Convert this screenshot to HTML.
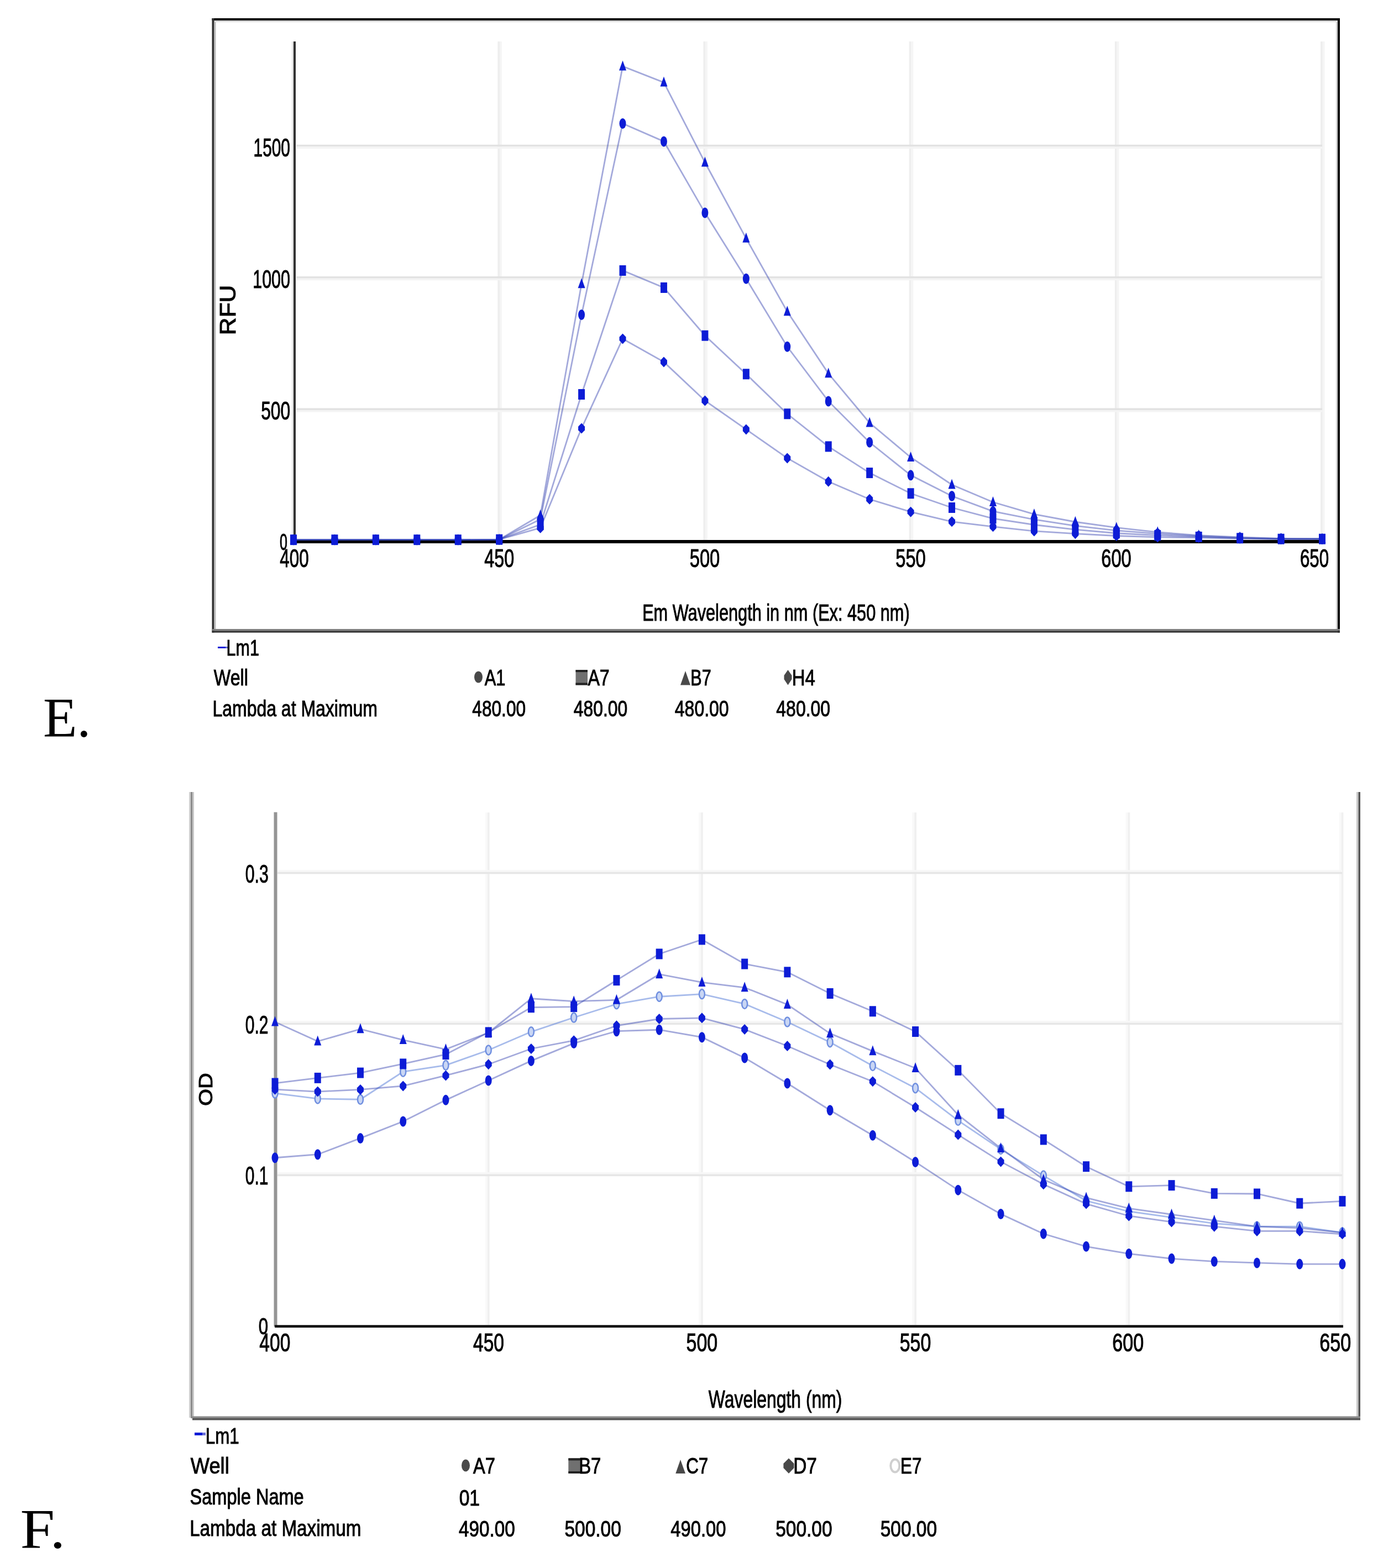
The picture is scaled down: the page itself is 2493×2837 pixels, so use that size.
<!DOCTYPE html>
<html><head><meta charset="utf-8"><title>Spectra E and F</title>
<style>html,body{margin:0;padding:0;background:#fff;width:2493px;height:2837px;overflow:hidden}svg{display:block}</style>
</head><body>
<svg width="2493" height="2837" viewBox="0 0 2493 2837">
<defs><filter id="soft" x="0" y="0" width="2493" height="2837" filterUnits="userSpaceOnUse"><feGaussianBlur stdDeviation="0.6"/></filter></defs><rect width="100%" height="100%" fill="#fff"/>
<g filter="url(#soft)">
<rect x="900.3" y="75" width="3.7" height="902" fill="#eeeeee"/>
<rect x="904" y="75" width="3.8" height="902" fill="#f5f5f5"/>
<rect x="1272.5" y="75" width="3.7" height="902" fill="#eeeeee"/>
<rect x="1276.2" y="75" width="3.8" height="902" fill="#f5f5f5"/>
<rect x="1644.7" y="75" width="3.7" height="902" fill="#eeeeee"/>
<rect x="1648.4" y="75" width="3.8" height="902" fill="#f5f5f5"/>
<rect x="2016.9" y="75" width="3.7" height="902" fill="#eeeeee"/>
<rect x="2020.6" y="75" width="3.8" height="902" fill="#f5f5f5"/>
<rect x="2389.1" y="75" width="3.7" height="902" fill="#eeeeee"/>
<rect x="2392.8" y="75" width="3.8" height="902" fill="#f5f5f5"/>
<rect x="536" y="738.45" width="1856" height="3.6" fill="#e2e2e2"/>
<rect x="536" y="742.05" width="1856" height="3.6" fill="#f4f4f4"/>
<rect x="536" y="500.1" width="1856" height="3.6" fill="#e2e2e2"/>
<rect x="536" y="503.7" width="1856" height="3.6" fill="#f4f4f4"/>
<rect x="536" y="261.75" width="1856" height="3.6" fill="#e2e2e2"/>
<rect x="536" y="265.35" width="1856" height="3.6" fill="#f4f4f4"/>
<rect x="383.5" y="33" width="2040.5" height="4" fill="#000"/>
<rect x="387.5" y="37" width="2032.5" height="3" fill="#dcdcdc"/>
<rect x="383.5" y="33" width="4" height="1111.5" fill="#333"/>
<rect x="387.5" y="40" width="3" height="1098" fill="#bdbdbd"/>
<rect x="2420" y="33" width="4" height="1111.5" fill="#000"/>
<rect x="2417" y="40" width="3" height="1098" fill="#d2d2d2"/>
<rect x="383.5" y="1138" width="2040.5" height="3.3" fill="#808080"/>
<rect x="383.5" y="1141.3" width="2040.5" height="3.3" fill="#333"/>
<rect x="531" y="75" width="4" height="905" fill="#333"/>
<rect x="528" y="75" width="3" height="905" fill="#e4e4e4"/>
<rect x="531" y="977" width="1866" height="6" fill="#000"/>
<polyline points="531,976.66 605.44,976.66 679.88,976.66 754.32,976.66 828.76,976.66 903.2,976.19 977.64,932.33 1052.08,513.79 1126.52,120.03 1200.96,149.11 1275.4,294.03 1349.84,431.32 1424.28,563.84 1498.72,675.87 1573.16,765.01 1647.6,827.46 1722.04,877.03 1796.48,908.5 1870.92,930.42 1945.36,944.25 2019.8,954.73 2094.24,962.84 2168.68,968.56 2243.12,971.9 2317.56,974.28 2392,974.76" fill="none" stroke="#3040b0" stroke-opacity="0.45" stroke-width="2.8"/>
<polyline points="531,976.66 605.44,976.66 679.88,976.66 754.32,976.66 828.76,976.66 903.2,976.19 977.64,939.48 1052.08,569.56 1126.52,223.48 1200.96,255.89 1275.4,385.08 1349.84,504.25 1424.28,627.24 1498.72,725.92 1573.16,800.28 1647.6,859.87 1722.04,897.53 1796.48,925.18 1870.92,939.96 1945.36,951.4 2019.8,959.98 2094.24,965.7 2168.68,969.99 2243.12,972.85 2317.56,974.76 2392,975.23" fill="none" stroke="#3040b0" stroke-opacity="0.45" stroke-width="2.8"/>
<polyline points="531,976.66 605.44,976.66 679.88,976.66 754.32,976.66 828.76,976.66 903.2,976.19 977.64,949.01 1052.08,713.52 1126.52,489.48 1200.96,520.46 1275.4,607.22 1349.84,676.82 1424.28,748.8 1498.72,807.91 1573.16,855.58 1647.6,892.76 1722.04,918.51 1796.48,938.05 1870.92,949.49 1945.36,958.07 2019.8,964.75 2094.24,968.56 2168.68,971.42 2243.12,973.8 2317.56,975.23 2392,975.23" fill="none" stroke="#3040b0" stroke-opacity="0.45" stroke-width="2.8"/>
<polyline points="531,976.66 605.44,976.66 679.88,976.66 754.32,976.66 828.76,976.66 903.2,976.19 977.64,955.21 1052.08,775.02 1126.52,612.94 1200.96,654.89 1275.4,724.97 1349.84,776.93 1424.28,828.89 1498.72,871.31 1573.16,903.25 1647.6,926.13 1722.04,943.77 1796.48,952.83 1870.92,960.93 1945.36,965.7 2019.8,969.51 2094.24,971.9 2168.68,972.85 2243.12,974.28 2317.56,975.23 2392,975.23" fill="none" stroke="#3040b0" stroke-opacity="0.45" stroke-width="2.8"/>
<polygon points="531,966.16 537.5,984.16 524.5,984.16" fill="#0a1fd6"/>
<polygon points="605.44,966.16 611.94,984.16 598.94,984.16" fill="#0a1fd6"/>
<polygon points="679.88,966.16 686.38,984.16 673.38,984.16" fill="#0a1fd6"/>
<polygon points="754.32,966.16 760.82,984.16 747.82,984.16" fill="#0a1fd6"/>
<polygon points="828.76,966.16 835.26,984.16 822.26,984.16" fill="#0a1fd6"/>
<polygon points="903.2,965.69 909.7,983.69 896.7,983.69" fill="#0a1fd6"/>
<polygon points="977.64,921.83 984.14,939.83 971.14,939.83" fill="#0a1fd6"/>
<polygon points="1052.08,503.29 1058.58,521.29 1045.58,521.29" fill="#0a1fd6"/>
<polygon points="1126.52,109.53 1133.02,127.53 1120.02,127.53" fill="#0a1fd6"/>
<polygon points="1200.96,138.61 1207.46,156.61 1194.46,156.61" fill="#0a1fd6"/>
<polygon points="1275.4,283.53 1281.9,301.53 1268.9,301.53" fill="#0a1fd6"/>
<polygon points="1349.84,420.82 1356.34,438.82 1343.34,438.82" fill="#0a1fd6"/>
<polygon points="1424.28,553.34 1430.78,571.34 1417.78,571.34" fill="#0a1fd6"/>
<polygon points="1498.72,665.37 1505.22,683.37 1492.22,683.37" fill="#0a1fd6"/>
<polygon points="1573.16,754.51 1579.66,772.51 1566.66,772.51" fill="#0a1fd6"/>
<polygon points="1647.6,816.96 1654.1,834.96 1641.1,834.96" fill="#0a1fd6"/>
<polygon points="1722.04,866.53 1728.54,884.53 1715.54,884.53" fill="#0a1fd6"/>
<polygon points="1796.48,898 1802.98,916 1789.98,916" fill="#0a1fd6"/>
<polygon points="1870.92,919.92 1877.42,937.92 1864.42,937.92" fill="#0a1fd6"/>
<polygon points="1945.36,933.75 1951.86,951.75 1938.86,951.75" fill="#0a1fd6"/>
<polygon points="2019.8,944.23 2026.3,962.23 2013.3,962.23" fill="#0a1fd6"/>
<polygon points="2094.24,952.34 2100.74,970.34 2087.74,970.34" fill="#0a1fd6"/>
<polygon points="2168.68,958.06 2175.18,976.06 2162.18,976.06" fill="#0a1fd6"/>
<polygon points="2243.12,961.4 2249.62,979.4 2236.62,979.4" fill="#0a1fd6"/>
<polygon points="2317.56,963.78 2324.06,981.78 2311.06,981.78" fill="#0a1fd6"/>
<polygon points="2392,964.26 2398.5,982.26 2385.5,982.26" fill="#0a1fd6"/>
<ellipse cx="531" cy="976.66" rx="6" ry="9.5" fill="#0a1fd6"/>
<ellipse cx="605.44" cy="976.66" rx="6" ry="9.5" fill="#0a1fd6"/>
<ellipse cx="679.88" cy="976.66" rx="6" ry="9.5" fill="#0a1fd6"/>
<ellipse cx="754.32" cy="976.66" rx="6" ry="9.5" fill="#0a1fd6"/>
<ellipse cx="828.76" cy="976.66" rx="6" ry="9.5" fill="#0a1fd6"/>
<ellipse cx="903.2" cy="976.19" rx="6" ry="9.5" fill="#0a1fd6"/>
<ellipse cx="977.64" cy="939.48" rx="6" ry="9.5" fill="#0a1fd6"/>
<ellipse cx="1052.08" cy="569.56" rx="6" ry="9.5" fill="#0a1fd6"/>
<ellipse cx="1126.52" cy="223.48" rx="6" ry="9.5" fill="#0a1fd6"/>
<ellipse cx="1200.96" cy="255.89" rx="6" ry="9.5" fill="#0a1fd6"/>
<ellipse cx="1275.4" cy="385.08" rx="6" ry="9.5" fill="#0a1fd6"/>
<ellipse cx="1349.84" cy="504.25" rx="6" ry="9.5" fill="#0a1fd6"/>
<ellipse cx="1424.28" cy="627.24" rx="6" ry="9.5" fill="#0a1fd6"/>
<ellipse cx="1498.72" cy="725.92" rx="6" ry="9.5" fill="#0a1fd6"/>
<ellipse cx="1573.16" cy="800.28" rx="6" ry="9.5" fill="#0a1fd6"/>
<ellipse cx="1647.6" cy="859.87" rx="6" ry="9.5" fill="#0a1fd6"/>
<ellipse cx="1722.04" cy="897.53" rx="6" ry="9.5" fill="#0a1fd6"/>
<ellipse cx="1796.48" cy="925.18" rx="6" ry="9.5" fill="#0a1fd6"/>
<ellipse cx="1870.92" cy="939.96" rx="6" ry="9.5" fill="#0a1fd6"/>
<ellipse cx="1945.36" cy="951.4" rx="6" ry="9.5" fill="#0a1fd6"/>
<ellipse cx="2019.8" cy="959.98" rx="6" ry="9.5" fill="#0a1fd6"/>
<ellipse cx="2094.24" cy="965.7" rx="6" ry="9.5" fill="#0a1fd6"/>
<ellipse cx="2168.68" cy="969.99" rx="6" ry="9.5" fill="#0a1fd6"/>
<ellipse cx="2243.12" cy="972.85" rx="6" ry="9.5" fill="#0a1fd6"/>
<ellipse cx="2317.56" cy="974.76" rx="6" ry="9.5" fill="#0a1fd6"/>
<ellipse cx="2392" cy="975.23" rx="6" ry="9.5" fill="#0a1fd6"/>
<rect x="525" y="967.16" width="12" height="19" fill="#0a1fd6"/>
<rect x="599.44" y="967.16" width="12" height="19" fill="#0a1fd6"/>
<rect x="673.88" y="967.16" width="12" height="19" fill="#0a1fd6"/>
<rect x="748.32" y="967.16" width="12" height="19" fill="#0a1fd6"/>
<rect x="822.76" y="967.16" width="12" height="19" fill="#0a1fd6"/>
<rect x="897.2" y="966.69" width="12" height="19" fill="#0a1fd6"/>
<rect x="971.64" y="939.51" width="12" height="19" fill="#0a1fd6"/>
<rect x="1046.08" y="704.02" width="12" height="19" fill="#0a1fd6"/>
<rect x="1120.52" y="479.98" width="12" height="19" fill="#0a1fd6"/>
<rect x="1194.96" y="510.96" width="12" height="19" fill="#0a1fd6"/>
<rect x="1269.4" y="597.72" width="12" height="19" fill="#0a1fd6"/>
<rect x="1343.84" y="667.32" width="12" height="19" fill="#0a1fd6"/>
<rect x="1418.28" y="739.3" width="12" height="19" fill="#0a1fd6"/>
<rect x="1492.72" y="798.41" width="12" height="19" fill="#0a1fd6"/>
<rect x="1567.16" y="846.08" width="12" height="19" fill="#0a1fd6"/>
<rect x="1641.6" y="883.26" width="12" height="19" fill="#0a1fd6"/>
<rect x="1716.04" y="909.01" width="12" height="19" fill="#0a1fd6"/>
<rect x="1790.48" y="928.55" width="12" height="19" fill="#0a1fd6"/>
<rect x="1864.92" y="939.99" width="12" height="19" fill="#0a1fd6"/>
<rect x="1939.36" y="948.57" width="12" height="19" fill="#0a1fd6"/>
<rect x="2013.8" y="955.25" width="12" height="19" fill="#0a1fd6"/>
<rect x="2088.24" y="959.06" width="12" height="19" fill="#0a1fd6"/>
<rect x="2162.68" y="961.92" width="12" height="19" fill="#0a1fd6"/>
<rect x="2237.12" y="964.3" width="12" height="19" fill="#0a1fd6"/>
<rect x="2311.56" y="965.73" width="12" height="19" fill="#0a1fd6"/>
<rect x="2386" y="965.73" width="12" height="19" fill="#0a1fd6"/>
<polygon points="531,967.16 537,973.5 537,979.83 531,986.16 525,979.83 525,973.5" fill="#0a1fd6"/>
<polygon points="605.44,967.16 611.44,973.5 611.44,979.83 605.44,986.16 599.44,979.83 599.44,973.5" fill="#0a1fd6"/>
<polygon points="679.88,967.16 685.88,973.5 685.88,979.83 679.88,986.16 673.88,979.83 673.88,973.5" fill="#0a1fd6"/>
<polygon points="754.32,967.16 760.32,973.5 760.32,979.83 754.32,986.16 748.32,979.83 748.32,973.5" fill="#0a1fd6"/>
<polygon points="828.76,967.16 834.76,973.5 834.76,979.83 828.76,986.16 822.76,979.83 822.76,973.5" fill="#0a1fd6"/>
<polygon points="903.2,966.69 909.2,973.02 909.2,979.35 903.2,985.69 897.2,979.35 897.2,973.02" fill="#0a1fd6"/>
<polygon points="977.64,945.71 983.64,952.04 983.64,958.38 977.64,964.71 971.64,958.38 971.64,952.04" fill="#0a1fd6"/>
<polygon points="1052.08,765.52 1058.08,771.85 1058.08,778.19 1052.08,784.52 1046.08,778.19 1046.08,771.85" fill="#0a1fd6"/>
<polygon points="1126.52,603.44 1132.52,609.77 1132.52,616.11 1126.52,622.44 1120.52,616.11 1120.52,609.77" fill="#0a1fd6"/>
<polygon points="1200.96,645.39 1206.96,651.72 1206.96,658.06 1200.96,664.39 1194.96,658.06 1194.96,651.72" fill="#0a1fd6"/>
<polygon points="1275.4,715.47 1281.4,721.8 1281.4,728.13 1275.4,734.47 1269.4,728.13 1269.4,721.8" fill="#0a1fd6"/>
<polygon points="1349.84,767.43 1355.84,773.76 1355.84,780.09 1349.84,786.43 1343.84,780.09 1343.84,773.76" fill="#0a1fd6"/>
<polygon points="1424.28,819.39 1430.28,825.72 1430.28,832.05 1424.28,838.39 1418.28,832.05 1418.28,825.72" fill="#0a1fd6"/>
<polygon points="1498.72,861.81 1504.72,868.15 1504.72,874.48 1498.72,880.81 1492.72,874.48 1492.72,868.15" fill="#0a1fd6"/>
<polygon points="1573.16,893.75 1579.16,900.08 1579.16,906.42 1573.16,912.75 1567.16,906.42 1567.16,900.08" fill="#0a1fd6"/>
<polygon points="1647.6,916.63 1653.6,922.97 1653.6,929.3 1647.6,935.63 1641.6,929.3 1641.6,922.97" fill="#0a1fd6"/>
<polygon points="1722.04,934.27 1728.04,940.6 1728.04,946.94 1722.04,953.27 1716.04,946.94 1716.04,940.6" fill="#0a1fd6"/>
<polygon points="1796.48,943.33 1802.48,949.66 1802.48,955.99 1796.48,962.33 1790.48,955.99 1790.48,949.66" fill="#0a1fd6"/>
<polygon points="1870.92,951.43 1876.92,957.77 1876.92,964.1 1870.92,970.43 1864.92,964.1 1864.92,957.77" fill="#0a1fd6"/>
<polygon points="1945.36,956.2 1951.36,962.53 1951.36,968.87 1945.36,975.2 1939.36,968.87 1939.36,962.53" fill="#0a1fd6"/>
<polygon points="2019.8,960.01 2025.8,966.35 2025.8,972.68 2019.8,979.01 2013.8,972.68 2013.8,966.35" fill="#0a1fd6"/>
<polygon points="2094.24,962.4 2100.24,968.73 2100.24,975.06 2094.24,981.4 2088.24,975.06 2088.24,968.73" fill="#0a1fd6"/>
<polygon points="2168.68,963.35 2174.68,969.68 2174.68,976.02 2168.68,982.35 2162.68,976.02 2162.68,969.68" fill="#0a1fd6"/>
<polygon points="2243.12,964.78 2249.12,971.11 2249.12,977.45 2243.12,983.78 2237.12,977.45 2237.12,971.11" fill="#0a1fd6"/>
<polygon points="2317.56,965.73 2323.56,972.07 2323.56,978.4 2317.56,984.73 2311.56,978.4 2311.56,972.07" fill="#0a1fd6"/>
<polygon points="2392,965.73 2398,972.07 2398,978.4 2392,984.73 2386,978.4 2386,972.07" fill="#0a1fd6"/>
<text x="458.56" y="282.5" font-size="45.82" textLength="66.37" lengthAdjust="spacingAndGlyphs" fill="#000" stroke="#000" stroke-width="1" style="font-family:'Liberation Sans', sans-serif">1500</text>
<text x="457.22" y="520.5" font-size="45.82" textLength="67.74" lengthAdjust="spacingAndGlyphs" fill="#000" stroke="#000" stroke-width="1" style="font-family:'Liberation Sans', sans-serif">1000</text>
<text x="472.23" y="759" font-size="45.82" textLength="52.89" lengthAdjust="spacingAndGlyphs" fill="#000" stroke="#000" stroke-width="1" style="font-family:'Liberation Sans', sans-serif">500</text>
<text x="506" y="995" font-size="42.18" textLength="13.9" lengthAdjust="spacingAndGlyphs" fill="#000" stroke="#000" stroke-width="1" style="font-family:'Liberation Sans', sans-serif">0</text>
<text x="506.37" y="1025.5" font-size="45.82" textLength="52.34" lengthAdjust="spacingAndGlyphs" fill="#000" stroke="#000" stroke-width="1" style="font-family:'Liberation Sans', sans-serif">400</text>
<text x="876.35" y="1025.5" font-size="45.82" textLength="53.89" lengthAdjust="spacingAndGlyphs" fill="#000" stroke="#000" stroke-width="1" style="font-family:'Liberation Sans', sans-serif">450</text>
<text x="1247.69" y="1025.5" font-size="45.82" textLength="54.57" lengthAdjust="spacingAndGlyphs" fill="#000" stroke="#000" stroke-width="1" style="font-family:'Liberation Sans', sans-serif">500</text>
<text x="1620.19" y="1025.5" font-size="45.82" textLength="54.57" lengthAdjust="spacingAndGlyphs" fill="#000" stroke="#000" stroke-width="1" style="font-family:'Liberation Sans', sans-serif">550</text>
<text x="1992.37" y="1025.5" font-size="45.82" textLength="54.39" lengthAdjust="spacingAndGlyphs" fill="#000" stroke="#000" stroke-width="1" style="font-family:'Liberation Sans', sans-serif">600</text>
<text x="2351.93" y="1025.5" font-size="45.82" textLength="52.27" lengthAdjust="spacingAndGlyphs" fill="#000" stroke="#000" stroke-width="1" style="font-family:'Liberation Sans', sans-serif">650</text>
<g transform="translate(411.7,560.8) rotate(-90)"><text x="-45.37" y="13.85" font-size="40.29" textLength="90.54" lengthAdjust="spacingAndGlyphs" fill="#000" stroke="#000" stroke-width="1" style="font-family:'Liberation Sans', sans-serif">RFU</text></g>
<text x="1162.14" y="1123" font-size="42.91" textLength="483.56" lengthAdjust="spacingAndGlyphs" fill="#000" stroke="#000" stroke-width="1" style="font-family:'Liberation Sans', sans-serif">Em Wavelength in nm (Ex: 450 nm)</text>
<rect x="394" y="1170" width="14" height="3" fill="#0a1fd6"/>
<rect x="408" y="1170" width="6" height="3" fill="#6a70d8"/>
<text x="409.56" y="1186.4" font-size="39.85" textLength="59.32" lengthAdjust="spacingAndGlyphs" fill="#000" stroke="#000" stroke-width="1" style="font-family:'Liberation Sans', sans-serif">Lm1</text>
<text x="386.84" y="1239.5" font-size="40" textLength="62.1" lengthAdjust="spacingAndGlyphs" fill="#000" stroke="#000" stroke-width="1" style="font-family:'Liberation Sans', sans-serif">Well</text>
<text x="384.44" y="1295.5" font-size="40" textLength="298.55" lengthAdjust="spacingAndGlyphs" fill="#000" stroke="#000" stroke-width="1" style="font-family:'Liberation Sans', sans-serif">Lambda at Maximum</text>
<ellipse cx="865.5" cy="1225" rx="7.5" ry="10.5" fill="#4a4a4a"/>
<text x="876.7" y="1239.5" font-size="40" textLength="37.69" lengthAdjust="spacingAndGlyphs" fill="#000" stroke="#000" stroke-width="1" style="font-family:'Liberation Sans', sans-serif">A1</text>
<rect x="1041.5" y="1212" width="21.5" height="27.5" fill="#707070"/>
<rect x="1041.5" y="1212" width="21.5" height="4" fill="#222"/>
<rect x="1041.5" y="1235.5" width="21.5" height="4" fill="#222"/>
<text x="1063.4" y="1239.5" font-size="40" textLength="39.31" lengthAdjust="spacingAndGlyphs" fill="#000" stroke="#000" stroke-width="1" style="font-family:'Liberation Sans', sans-serif">A7</text>
<polygon points="1240,1214 1249,1239.5 1231,1239.5" fill="#4a4a4a"/>
<text x="1249.26" y="1239.5" font-size="40" textLength="37.37" lengthAdjust="spacingAndGlyphs" fill="#000" stroke="#000" stroke-width="1" style="font-family:'Liberation Sans', sans-serif">B7</text>
<polygon points="1425.5,1212 1432.5,1222 1432.5,1229 1425.5,1239.5 1418.5,1229 1418.5,1222" fill="#4a4a4a"/>
<text x="1432.76" y="1239.5" font-size="40" textLength="42.14" lengthAdjust="spacingAndGlyphs" fill="#000" stroke="#000" stroke-width="1" style="font-family:'Liberation Sans', sans-serif">H4</text>
<text x="854.37" y="1295.7" font-size="40.29" textLength="96.7" lengthAdjust="spacingAndGlyphs" fill="#000" stroke="#000" stroke-width="1" style="font-family:'Liberation Sans', sans-serif">480.00</text>
<text x="1037.86" y="1295.7" font-size="40.29" textLength="97.21" lengthAdjust="spacingAndGlyphs" fill="#000" stroke="#000" stroke-width="1" style="font-family:'Liberation Sans', sans-serif">480.00</text>
<text x="1220.86" y="1295.7" font-size="40.29" textLength="97.71" lengthAdjust="spacingAndGlyphs" fill="#000" stroke="#000" stroke-width="1" style="font-family:'Liberation Sans', sans-serif">480.00</text>
<text x="1404.36" y="1295.7" font-size="40.29" textLength="97.71" lengthAdjust="spacingAndGlyphs" fill="#000" stroke="#000" stroke-width="1" style="font-family:'Liberation Sans', sans-serif">480.00</text>
<rect x="878" y="1470" width="3.9" height="927" fill="#f9f9f9"/>
<rect x="881.9" y="1470" width="3.7" height="927" fill="#f0f0f0"/>
<rect x="1264.2" y="1470" width="3.9" height="927" fill="#f9f9f9"/>
<rect x="1268.1" y="1470" width="3.7" height="927" fill="#f0f0f0"/>
<rect x="1650.4" y="1470" width="3.9" height="927" fill="#f9f9f9"/>
<rect x="1654.3" y="1470" width="3.7" height="927" fill="#f0f0f0"/>
<rect x="2036.6" y="1470" width="3.9" height="927" fill="#f9f9f9"/>
<rect x="2040.5" y="1470" width="3.7" height="927" fill="#f0f0f0"/>
<rect x="2422.8" y="1470" width="3.9" height="927" fill="#f9f9f9"/>
<rect x="2426.7" y="1470" width="3.7" height="927" fill="#f0f0f0"/>
<rect x="502" y="2121" width="1926" height="3.5" fill="#f7f7f7"/>
<rect x="502" y="2124.5" width="1926" height="3.6" fill="#e6e6e6"/>
<rect x="502" y="1847" width="1926" height="3.5" fill="#f7f7f7"/>
<rect x="502" y="1850.5" width="1926" height="3.6" fill="#e6e6e6"/>
<rect x="502" y="1574.2" width="1926" height="3.5" fill="#f7f7f7"/>
<rect x="502" y="1577.7" width="1926" height="3.6" fill="#e6e6e6"/>
<rect x="342" y="1433" width="3" height="1132" fill="#cfcfcf"/>
<rect x="345" y="1433" width="3.5" height="1132" fill="#8c8c8c"/>
<rect x="348.5" y="1433" width="2.5" height="1132" fill="#c8c8c8"/>
<rect x="2454" y="1433" width="3.5" height="1136" fill="#c8c8c8"/>
<rect x="2457.5" y="1433" width="3.5" height="1136" fill="#555"/>
<rect x="345" y="2562.5" width="2116" height="3.5" fill="#8a8a8a"/>
<rect x="348" y="2566" width="2113" height="3.5" fill="#555"/>
<rect x="495.5" y="1469.5" width="6" height="930.5" fill="#959595"/>
<rect x="497" y="2397.5" width="1933" height="4.5" fill="#000"/>
<polyline points="497.5,2094.76 574.74,2088.74 651.98,2059.42 729.22,2029 806.46,1990.37 883.7,1955.02 960.94,1919.4 1038.18,1887.62 1115.42,1865.7 1192.66,1863.23 1269.9,1876.66 1347.14,1913.92 1424.38,1959.96 1501.62,2008.73 1578.86,2054.21 1656.1,2102.44 1733.34,2153.13 1810.58,2196.42 1887.82,2232.31 1965.06,2255.33 2042.3,2268.48 2119.54,2277.25 2196.78,2282.45 2274.02,2284.92 2351.26,2287.11 2428.5,2287.11" fill="none" stroke="#3040b0" stroke-opacity="0.45" stroke-width="2.8"/>
<polyline points="497.5,1978.04 574.74,1987.9 651.98,1989.27 729.22,1939.13 806.46,1927.35 883.7,1899.95 960.94,1866.8 1038.18,1841.04 1115.42,1816.65 1192.66,1803.23 1269.9,1798.57 1347.14,1816.38 1424.38,1848.99 1501.62,1885.7 1578.86,1928.45 1656.1,1968.72 1733.34,2027.36 1810.58,2079.42 1887.82,2127.1 1965.06,2172.58 2042.3,2191.76 2119.54,2202.72 2196.78,2213.68 2274.02,2219.16 2351.26,2219.16 2428.5,2230.12" fill="none" stroke="#5078d8" stroke-opacity="0.5" stroke-width="2.8"/>
<polyline points="497.5,1971.19 574.74,1975.03 651.98,1971.46 729.22,1964.89 806.46,1945.98 883.7,1925.71 960.94,1897.48 1038.18,1882.69 1115.42,1855.84 1192.66,1843.51 1269.9,1841.86 1347.14,1862.41 1424.38,1892.55 1501.62,1925.98 1578.86,1956.67 1656.1,2003.52 1733.34,2053.12 1810.58,2101.89 1887.82,2142.71 1965.06,2178.06 2042.3,2199.98 2119.54,2210.94 2196.78,2219.16 2274.02,2227.38 2351.26,2227.38 2428.5,2232.86" fill="none" stroke="#3040b0" stroke-opacity="0.45" stroke-width="2.8"/>
<polyline points="497.5,1959.96 574.74,1950.37 651.98,1941.05 729.22,1924.88 806.46,1907.62 883.7,1867.89 960.94,1822.68 1038.18,1821.59 1115.42,1773.64 1192.66,1725.96 1269.9,1699.93 1347.14,1744.04 1424.38,1758.84 1501.62,1797.47 1578.86,1829.81 1656.1,1866.52 1733.34,1936.39 1810.58,2014.76 1887.82,2061.88 1965.06,2110.66 2042.3,2146.82 2119.54,2144.63 2196.78,2159.43 2274.02,2159.98 2351.26,2177.24 2428.5,2173.4" fill="none" stroke="#3040b0" stroke-opacity="0.45" stroke-width="2.8"/>
<polyline points="497.5,1848.99 574.74,1884.06 651.98,1861.86 729.22,1881.59 806.46,1898.58 883.7,1868.44 960.94,1806.79 1038.18,1811.72 1115.42,1809.26 1192.66,1762.68 1269.9,1777.47 1347.14,1786.79 1424.38,1817.48 1501.62,1869.81 1578.86,1901.87 1656.1,1932.56 1733.34,2017.22 1810.58,2077.5 1887.82,2134.22 1965.06,2167.1 2042.3,2186.28 2119.54,2197.24 2196.78,2208.2 2274.02,2219.16 2351.26,2221.9 2428.5,2230.12" fill="none" stroke="#3040b0" stroke-opacity="0.45" stroke-width="2.8"/>
<ellipse cx="497.5" cy="2094.76" rx="6" ry="9.5" fill="#0a1fd6"/>
<ellipse cx="574.74" cy="2088.74" rx="6" ry="9.5" fill="#0a1fd6"/>
<ellipse cx="651.98" cy="2059.42" rx="6" ry="9.5" fill="#0a1fd6"/>
<ellipse cx="729.22" cy="2029" rx="6" ry="9.5" fill="#0a1fd6"/>
<ellipse cx="806.46" cy="1990.37" rx="6" ry="9.5" fill="#0a1fd6"/>
<ellipse cx="883.7" cy="1955.02" rx="6" ry="9.5" fill="#0a1fd6"/>
<ellipse cx="960.94" cy="1919.4" rx="6" ry="9.5" fill="#0a1fd6"/>
<ellipse cx="1038.18" cy="1887.62" rx="6" ry="9.5" fill="#0a1fd6"/>
<ellipse cx="1115.42" cy="1865.7" rx="6" ry="9.5" fill="#0a1fd6"/>
<ellipse cx="1192.66" cy="1863.23" rx="6" ry="9.5" fill="#0a1fd6"/>
<ellipse cx="1269.9" cy="1876.66" rx="6" ry="9.5" fill="#0a1fd6"/>
<ellipse cx="1347.14" cy="1913.92" rx="6" ry="9.5" fill="#0a1fd6"/>
<ellipse cx="1424.38" cy="1959.96" rx="6" ry="9.5" fill="#0a1fd6"/>
<ellipse cx="1501.62" cy="2008.73" rx="6" ry="9.5" fill="#0a1fd6"/>
<ellipse cx="1578.86" cy="2054.21" rx="6" ry="9.5" fill="#0a1fd6"/>
<ellipse cx="1656.1" cy="2102.44" rx="6" ry="9.5" fill="#0a1fd6"/>
<ellipse cx="1733.34" cy="2153.13" rx="6" ry="9.5" fill="#0a1fd6"/>
<ellipse cx="1810.58" cy="2196.42" rx="6" ry="9.5" fill="#0a1fd6"/>
<ellipse cx="1887.82" cy="2232.31" rx="6" ry="9.5" fill="#0a1fd6"/>
<ellipse cx="1965.06" cy="2255.33" rx="6" ry="9.5" fill="#0a1fd6"/>
<ellipse cx="2042.3" cy="2268.48" rx="6" ry="9.5" fill="#0a1fd6"/>
<ellipse cx="2119.54" cy="2277.25" rx="6" ry="9.5" fill="#0a1fd6"/>
<ellipse cx="2196.78" cy="2282.45" rx="6" ry="9.5" fill="#0a1fd6"/>
<ellipse cx="2274.02" cy="2284.92" rx="6" ry="9.5" fill="#0a1fd6"/>
<ellipse cx="2351.26" cy="2287.11" rx="6" ry="9.5" fill="#0a1fd6"/>
<ellipse cx="2428.5" cy="2287.11" rx="6" ry="9.5" fill="#0a1fd6"/>
<ellipse cx="497.5" cy="1978.04" rx="5" ry="8.5" fill="#c9d6f4" stroke="#6f8fe0" stroke-width="2.5"/>
<ellipse cx="574.74" cy="1987.9" rx="5" ry="8.5" fill="#c9d6f4" stroke="#6f8fe0" stroke-width="2.5"/>
<ellipse cx="651.98" cy="1989.27" rx="5" ry="8.5" fill="#c9d6f4" stroke="#6f8fe0" stroke-width="2.5"/>
<ellipse cx="729.22" cy="1939.13" rx="5" ry="8.5" fill="#c9d6f4" stroke="#6f8fe0" stroke-width="2.5"/>
<ellipse cx="806.46" cy="1927.35" rx="5" ry="8.5" fill="#c9d6f4" stroke="#6f8fe0" stroke-width="2.5"/>
<ellipse cx="883.7" cy="1899.95" rx="5" ry="8.5" fill="#c9d6f4" stroke="#6f8fe0" stroke-width="2.5"/>
<ellipse cx="960.94" cy="1866.8" rx="5" ry="8.5" fill="#c9d6f4" stroke="#6f8fe0" stroke-width="2.5"/>
<ellipse cx="1038.18" cy="1841.04" rx="5" ry="8.5" fill="#c9d6f4" stroke="#6f8fe0" stroke-width="2.5"/>
<ellipse cx="1115.42" cy="1816.65" rx="5" ry="8.5" fill="#c9d6f4" stroke="#6f8fe0" stroke-width="2.5"/>
<ellipse cx="1192.66" cy="1803.23" rx="5" ry="8.5" fill="#c9d6f4" stroke="#6f8fe0" stroke-width="2.5"/>
<ellipse cx="1269.9" cy="1798.57" rx="5" ry="8.5" fill="#c9d6f4" stroke="#6f8fe0" stroke-width="2.5"/>
<ellipse cx="1347.14" cy="1816.38" rx="5" ry="8.5" fill="#c9d6f4" stroke="#6f8fe0" stroke-width="2.5"/>
<ellipse cx="1424.38" cy="1848.99" rx="5" ry="8.5" fill="#c9d6f4" stroke="#6f8fe0" stroke-width="2.5"/>
<ellipse cx="1501.62" cy="1885.7" rx="5" ry="8.5" fill="#c9d6f4" stroke="#6f8fe0" stroke-width="2.5"/>
<ellipse cx="1578.86" cy="1928.45" rx="5" ry="8.5" fill="#c9d6f4" stroke="#6f8fe0" stroke-width="2.5"/>
<ellipse cx="1656.1" cy="1968.72" rx="5" ry="8.5" fill="#c9d6f4" stroke="#6f8fe0" stroke-width="2.5"/>
<ellipse cx="1733.34" cy="2027.36" rx="5" ry="8.5" fill="#c9d6f4" stroke="#6f8fe0" stroke-width="2.5"/>
<ellipse cx="1810.58" cy="2079.42" rx="5" ry="8.5" fill="#c9d6f4" stroke="#6f8fe0" stroke-width="2.5"/>
<ellipse cx="1887.82" cy="2127.1" rx="5" ry="8.5" fill="#c9d6f4" stroke="#6f8fe0" stroke-width="2.5"/>
<ellipse cx="1965.06" cy="2172.58" rx="5" ry="8.5" fill="#c9d6f4" stroke="#6f8fe0" stroke-width="2.5"/>
<ellipse cx="2042.3" cy="2191.76" rx="5" ry="8.5" fill="#c9d6f4" stroke="#6f8fe0" stroke-width="2.5"/>
<ellipse cx="2119.54" cy="2202.72" rx="5" ry="8.5" fill="#c9d6f4" stroke="#6f8fe0" stroke-width="2.5"/>
<ellipse cx="2196.78" cy="2213.68" rx="5" ry="8.5" fill="#c9d6f4" stroke="#6f8fe0" stroke-width="2.5"/>
<ellipse cx="2274.02" cy="2219.16" rx="5" ry="8.5" fill="#c9d6f4" stroke="#6f8fe0" stroke-width="2.5"/>
<ellipse cx="2351.26" cy="2219.16" rx="5" ry="8.5" fill="#c9d6f4" stroke="#6f8fe0" stroke-width="2.5"/>
<ellipse cx="2428.5" cy="2230.12" rx="5" ry="8.5" fill="#c9d6f4" stroke="#6f8fe0" stroke-width="2.5"/>
<polygon points="497.5,1961.69 503.5,1968.02 503.5,1974.36 497.5,1980.69 491.5,1974.36 491.5,1968.02" fill="#0a1fd6"/>
<polygon points="574.74,1965.53 580.74,1971.86 580.74,1978.19 574.74,1984.53 568.74,1978.19 568.74,1971.86" fill="#0a1fd6"/>
<polygon points="651.98,1961.96 657.98,1968.3 657.98,1974.63 651.98,1980.96 645.98,1974.63 645.98,1968.3" fill="#0a1fd6"/>
<polygon points="729.22,1955.39 735.22,1961.72 735.22,1968.05 729.22,1974.39 723.22,1968.05 723.22,1961.72" fill="#0a1fd6"/>
<polygon points="806.46,1936.48 812.46,1942.82 812.46,1949.15 806.46,1955.48 800.46,1949.15 800.46,1942.82" fill="#0a1fd6"/>
<polygon points="883.7,1916.21 889.7,1922.54 889.7,1928.87 883.7,1935.21 877.7,1928.87 877.7,1922.54" fill="#0a1fd6"/>
<polygon points="960.94,1887.98 966.94,1894.32 966.94,1900.65 960.94,1906.98 954.94,1900.65 954.94,1894.32" fill="#0a1fd6"/>
<polygon points="1038.18,1873.19 1044.18,1879.52 1044.18,1885.85 1038.18,1892.19 1032.18,1885.85 1032.18,1879.52" fill="#0a1fd6"/>
<polygon points="1115.42,1846.34 1121.42,1852.67 1121.42,1859 1115.42,1865.34 1109.42,1859 1109.42,1852.67" fill="#0a1fd6"/>
<polygon points="1192.66,1834.01 1198.66,1840.34 1198.66,1846.67 1192.66,1853.01 1186.66,1846.67 1186.66,1840.34" fill="#0a1fd6"/>
<polygon points="1269.9,1832.36 1275.9,1838.7 1275.9,1845.03 1269.9,1851.36 1263.9,1845.03 1263.9,1838.7" fill="#0a1fd6"/>
<polygon points="1347.14,1852.91 1353.14,1859.25 1353.14,1865.58 1347.14,1871.91 1341.14,1865.58 1341.14,1859.25" fill="#0a1fd6"/>
<polygon points="1424.38,1883.05 1430.38,1889.39 1430.38,1895.72 1424.38,1902.05 1418.38,1895.72 1418.38,1889.39" fill="#0a1fd6"/>
<polygon points="1501.62,1916.48 1507.62,1922.81 1507.62,1929.15 1501.62,1935.48 1495.62,1929.15 1495.62,1922.81" fill="#0a1fd6"/>
<polygon points="1578.86,1947.17 1584.86,1953.5 1584.86,1959.83 1578.86,1966.17 1572.86,1959.83 1572.86,1953.5" fill="#0a1fd6"/>
<polygon points="1656.1,1994.02 1662.1,2000.36 1662.1,2006.69 1656.1,2013.02 1650.1,2006.69 1650.1,2000.36" fill="#0a1fd6"/>
<polygon points="1733.34,2043.62 1739.34,2049.95 1739.34,2056.28 1733.34,2062.62 1727.34,2056.28 1727.34,2049.95" fill="#0a1fd6"/>
<polygon points="1810.58,2092.39 1816.58,2098.72 1816.58,2105.05 1810.58,2111.39 1804.58,2105.05 1804.58,2098.72" fill="#0a1fd6"/>
<polygon points="1887.82,2133.21 1893.82,2139.55 1893.82,2145.88 1887.82,2152.21 1881.82,2145.88 1881.82,2139.55" fill="#0a1fd6"/>
<polygon points="1965.06,2168.56 1971.06,2174.89 1971.06,2181.23 1965.06,2187.56 1959.06,2181.23 1959.06,2174.89" fill="#0a1fd6"/>
<polygon points="2042.3,2190.48 2048.3,2196.81 2048.3,2203.15 2042.3,2209.48 2036.3,2203.15 2036.3,2196.81" fill="#0a1fd6"/>
<polygon points="2119.54,2201.44 2125.54,2207.77 2125.54,2214.11 2119.54,2220.44 2113.54,2214.11 2113.54,2207.77" fill="#0a1fd6"/>
<polygon points="2196.78,2209.66 2202.78,2215.99 2202.78,2222.33 2196.78,2228.66 2190.78,2222.33 2190.78,2215.99" fill="#0a1fd6"/>
<polygon points="2274.02,2217.88 2280.02,2224.21 2280.02,2230.55 2274.02,2236.88 2268.02,2230.55 2268.02,2224.21" fill="#0a1fd6"/>
<polygon points="2351.26,2217.88 2357.26,2224.21 2357.26,2230.55 2351.26,2236.88 2345.26,2230.55 2345.26,2224.21" fill="#0a1fd6"/>
<polygon points="2428.5,2223.36 2434.5,2229.69 2434.5,2236.03 2428.5,2242.36 2422.5,2236.03 2422.5,2229.69" fill="#0a1fd6"/>
<rect x="491.5" y="1950.46" width="12" height="19" fill="#0a1fd6"/>
<rect x="568.74" y="1940.87" width="12" height="19" fill="#0a1fd6"/>
<rect x="645.98" y="1931.55" width="12" height="19" fill="#0a1fd6"/>
<rect x="723.22" y="1915.38" width="12" height="19" fill="#0a1fd6"/>
<rect x="800.46" y="1898.12" width="12" height="19" fill="#0a1fd6"/>
<rect x="877.7" y="1858.39" width="12" height="19" fill="#0a1fd6"/>
<rect x="954.94" y="1813.18" width="12" height="19" fill="#0a1fd6"/>
<rect x="1032.18" y="1812.09" width="12" height="19" fill="#0a1fd6"/>
<rect x="1109.42" y="1764.14" width="12" height="19" fill="#0a1fd6"/>
<rect x="1186.66" y="1716.46" width="12" height="19" fill="#0a1fd6"/>
<rect x="1263.9" y="1690.43" width="12" height="19" fill="#0a1fd6"/>
<rect x="1341.14" y="1734.54" width="12" height="19" fill="#0a1fd6"/>
<rect x="1418.38" y="1749.34" width="12" height="19" fill="#0a1fd6"/>
<rect x="1495.62" y="1787.97" width="12" height="19" fill="#0a1fd6"/>
<rect x="1572.86" y="1820.31" width="12" height="19" fill="#0a1fd6"/>
<rect x="1650.1" y="1857.02" width="12" height="19" fill="#0a1fd6"/>
<rect x="1727.34" y="1926.89" width="12" height="19" fill="#0a1fd6"/>
<rect x="1804.58" y="2005.26" width="12" height="19" fill="#0a1fd6"/>
<rect x="1881.82" y="2052.38" width="12" height="19" fill="#0a1fd6"/>
<rect x="1959.06" y="2101.16" width="12" height="19" fill="#0a1fd6"/>
<rect x="2036.3" y="2137.32" width="12" height="19" fill="#0a1fd6"/>
<rect x="2113.54" y="2135.13" width="12" height="19" fill="#0a1fd6"/>
<rect x="2190.78" y="2149.93" width="12" height="19" fill="#0a1fd6"/>
<rect x="2268.02" y="2150.48" width="12" height="19" fill="#0a1fd6"/>
<rect x="2345.26" y="2167.74" width="12" height="19" fill="#0a1fd6"/>
<rect x="2422.5" y="2163.9" width="12" height="19" fill="#0a1fd6"/>
<polygon points="497.5,1838.49 504,1856.49 491,1856.49" fill="#0a1fd6"/>
<polygon points="574.74,1873.56 581.24,1891.56 568.24,1891.56" fill="#0a1fd6"/>
<polygon points="651.98,1851.36 658.48,1869.36 645.48,1869.36" fill="#0a1fd6"/>
<polygon points="729.22,1871.09 735.72,1889.09 722.72,1889.09" fill="#0a1fd6"/>
<polygon points="806.46,1888.08 812.96,1906.08 799.96,1906.08" fill="#0a1fd6"/>
<polygon points="883.7,1857.94 890.2,1875.94 877.2,1875.94" fill="#0a1fd6"/>
<polygon points="960.94,1796.29 967.44,1814.29 954.44,1814.29" fill="#0a1fd6"/>
<polygon points="1038.18,1801.22 1044.68,1819.22 1031.68,1819.22" fill="#0a1fd6"/>
<polygon points="1115.42,1798.76 1121.92,1816.76 1108.92,1816.76" fill="#0a1fd6"/>
<polygon points="1192.66,1752.18 1199.16,1770.18 1186.16,1770.18" fill="#0a1fd6"/>
<polygon points="1269.9,1766.97 1276.4,1784.97 1263.4,1784.97" fill="#0a1fd6"/>
<polygon points="1347.14,1776.29 1353.64,1794.29 1340.64,1794.29" fill="#0a1fd6"/>
<polygon points="1424.38,1806.98 1430.88,1824.98 1417.88,1824.98" fill="#0a1fd6"/>
<polygon points="1501.62,1859.31 1508.12,1877.31 1495.12,1877.31" fill="#0a1fd6"/>
<polygon points="1578.86,1891.37 1585.36,1909.37 1572.36,1909.37" fill="#0a1fd6"/>
<polygon points="1656.1,1922.06 1662.6,1940.06 1649.6,1940.06" fill="#0a1fd6"/>
<polygon points="1733.34,2006.72 1739.84,2024.72 1726.84,2024.72" fill="#0a1fd6"/>
<polygon points="1810.58,2067 1817.08,2085 1804.08,2085" fill="#0a1fd6"/>
<polygon points="1887.82,2123.72 1894.32,2141.72 1881.32,2141.72" fill="#0a1fd6"/>
<polygon points="1965.06,2156.6 1971.56,2174.6 1958.56,2174.6" fill="#0a1fd6"/>
<polygon points="2042.3,2175.78 2048.8,2193.78 2035.8,2193.78" fill="#0a1fd6"/>
<polygon points="2119.54,2186.74 2126.04,2204.74 2113.04,2204.74" fill="#0a1fd6"/>
<polygon points="2196.78,2197.7 2203.28,2215.7 2190.28,2215.7" fill="#0a1fd6"/>
<polygon points="2274.02,2208.66 2280.52,2226.66 2267.52,2226.66" fill="#0a1fd6"/>
<polygon points="2351.26,2211.4 2357.76,2229.4 2344.76,2229.4" fill="#0a1fd6"/>
<polygon points="2428.5,2219.62 2435,2237.62 2422,2237.62" fill="#0a1fd6"/>
<text x="443.79" y="1596.8" font-size="46.25" textLength="41.92" lengthAdjust="spacingAndGlyphs" fill="#000" stroke="#000" stroke-width="1" style="font-family:'Liberation Sans', sans-serif">0.3</text>
<text x="443.8" y="1870" font-size="46.55" textLength="41.7" lengthAdjust="spacingAndGlyphs" fill="#000" stroke="#000" stroke-width="1" style="font-family:'Liberation Sans', sans-serif">0.2</text>
<text x="443.8" y="2142.5" font-size="45.82" textLength="41.54" lengthAdjust="spacingAndGlyphs" fill="#000" stroke="#000" stroke-width="1" style="font-family:'Liberation Sans', sans-serif">0.1</text>
<text x="467.75" y="2414" font-size="42.91" textLength="17.38" lengthAdjust="spacingAndGlyphs" fill="#000" stroke="#000" stroke-width="1" style="font-family:'Liberation Sans', sans-serif">0</text>
<text x="469.33" y="2444.6" font-size="45.67" textLength="55.96" lengthAdjust="spacingAndGlyphs" fill="#000" stroke="#000" stroke-width="1" style="font-family:'Liberation Sans', sans-serif">400</text>
<text x="856.03" y="2444.6" font-size="45.67" textLength="55.96" lengthAdjust="spacingAndGlyphs" fill="#000" stroke="#000" stroke-width="1" style="font-family:'Liberation Sans', sans-serif">450</text>
<text x="1241.54" y="2444.6" font-size="45.67" textLength="56.67" lengthAdjust="spacingAndGlyphs" fill="#000" stroke="#000" stroke-width="1" style="font-family:'Liberation Sans', sans-serif">500</text>
<text x="1627.74" y="2444.6" font-size="45.67" textLength="56.67" lengthAdjust="spacingAndGlyphs" fill="#000" stroke="#000" stroke-width="1" style="font-family:'Liberation Sans', sans-serif">550</text>
<text x="2012.29" y="2444.6" font-size="45.67" textLength="57.03" lengthAdjust="spacingAndGlyphs" fill="#000" stroke="#000" stroke-width="1" style="font-family:'Liberation Sans', sans-serif">600</text>
<text x="2387.29" y="2444.6" font-size="45.67" textLength="57.03" lengthAdjust="spacingAndGlyphs" fill="#000" stroke="#000" stroke-width="1" style="font-family:'Liberation Sans', sans-serif">650</text>
<g transform="translate(371.6,1971) rotate(-90)"><text x="-30.05" y="12.2" font-size="35.49" textLength="60.11" lengthAdjust="spacingAndGlyphs" fill="#000" stroke="#000" stroke-width="1" style="font-family:'Liberation Sans', sans-serif">OD</text></g>
<text x="1281.84" y="2547" font-size="45.09" textLength="241.63" lengthAdjust="spacingAndGlyphs" fill="#000" stroke="#000" stroke-width="1" style="font-family:'Liberation Sans', sans-serif">Wavelength (nm)</text>
<rect x="352" y="2592" width="14" height="5" fill="#0a1fd6"/>
<rect x="366" y="2592" width="6" height="5" fill="#6a70d8"/>
<text x="371.79" y="2611.7" font-size="40" textLength="60.93" lengthAdjust="spacingAndGlyphs" fill="#000" stroke="#000" stroke-width="1" style="font-family:'Liberation Sans', sans-serif">Lm1</text>
<text x="344.82" y="2666.3" font-size="41.16" textLength="69.89" lengthAdjust="spacingAndGlyphs" fill="#000" stroke="#000" stroke-width="1" style="font-family:'Liberation Sans', sans-serif">Well</text>
<text x="343.54" y="2722" font-size="40.15" textLength="206.17" lengthAdjust="spacingAndGlyphs" fill="#000" stroke="#000" stroke-width="1" style="font-family:'Liberation Sans', sans-serif">Sample Name</text>
<text x="343.14" y="2779" font-size="40.73" textLength="310.33" lengthAdjust="spacingAndGlyphs" fill="#000" stroke="#000" stroke-width="1" style="font-family:'Liberation Sans', sans-serif">Lambda at Maximum</text>
<ellipse cx="842.5" cy="2651.5" rx="7.5" ry="11" fill="#4a4a4a"/>
<text x="856" y="2666" font-size="40.15" textLength="39.94" lengthAdjust="spacingAndGlyphs" fill="#000" stroke="#000" stroke-width="1" style="font-family:'Liberation Sans', sans-serif">A7</text>
<rect x="1028.3" y="2638.4" width="21.5" height="27.6" fill="#707070"/>
<rect x="1028.3" y="2638.4" width="21.5" height="4" fill="#222"/>
<rect x="1028.3" y="2662" width="21.5" height="4" fill="#222"/>
<text x="1047.17" y="2666" font-size="40.15" textLength="40.29" lengthAdjust="spacingAndGlyphs" fill="#000" stroke="#000" stroke-width="1" style="font-family:'Liberation Sans', sans-serif">B7</text>
<polygon points="1231,2641 1240,2666 1222.3,2666" fill="#4a4a4a"/>
<text x="1241.13" y="2666" font-size="40.15" textLength="40.15" lengthAdjust="spacingAndGlyphs" fill="#000" stroke="#000" stroke-width="1" style="font-family:'Liberation Sans', sans-serif">C7</text>
<polygon points="1427,2638.4 1436.5,2648 1436.5,2656 1427,2666 1417.4,2656 1417.4,2648" fill="#4a4a4a"/>
<text x="1435.13" y="2666" font-size="40.15" textLength="42.65" lengthAdjust="spacingAndGlyphs" fill="#000" stroke="#000" stroke-width="1" style="font-family:'Liberation Sans', sans-serif">D7</text>
<ellipse cx="1619.3" cy="2652" rx="8" ry="11.5" fill="none" stroke="#cfcfcf" stroke-width="4"/>
<text x="1628.99" y="2666" font-size="40.15" textLength="38.38" lengthAdjust="spacingAndGlyphs" fill="#000" stroke="#000" stroke-width="1" style="font-family:'Liberation Sans', sans-serif">E7</text>
<text x="830.65" y="2723.5" font-size="41.45" textLength="37.44" lengthAdjust="spacingAndGlyphs" fill="#000" stroke="#000" stroke-width="1" style="font-family:'Liberation Sans', sans-serif">01</text>
<text x="830.04" y="2779.5" font-size="41.45" textLength="101.68" lengthAdjust="spacingAndGlyphs" fill="#000" stroke="#000" stroke-width="1" style="font-family:'Liberation Sans', sans-serif">490.00</text>
<text x="1021.46" y="2779.5" font-size="41.45" textLength="102.37" lengthAdjust="spacingAndGlyphs" fill="#000" stroke="#000" stroke-width="1" style="font-family:'Liberation Sans', sans-serif">500.00</text>
<text x="1213.35" y="2779.5" font-size="41.45" textLength="100.06" lengthAdjust="spacingAndGlyphs" fill="#000" stroke="#000" stroke-width="1" style="font-family:'Liberation Sans', sans-serif">490.00</text>
<text x="1403.16" y="2779.5" font-size="41.45" textLength="102.37" lengthAdjust="spacingAndGlyphs" fill="#000" stroke="#000" stroke-width="1" style="font-family:'Liberation Sans', sans-serif">500.00</text>
<text x="1592.66" y="2779.5" font-size="41.45" textLength="102.47" lengthAdjust="spacingAndGlyphs" fill="#000" stroke="#000" stroke-width="1" style="font-family:'Liberation Sans', sans-serif">500.00</text>
</g>
<text x="77.98" y="1332.8" font-size="101.98" textLength="86.54" lengthAdjust="spacingAndGlyphs" fill="#000" style="font-family:'Liberation Serif', serif">E.</text>
<text x="36.62" y="2800.8" font-size="101.98" textLength="81.71" lengthAdjust="spacingAndGlyphs" fill="#000" style="font-family:'Liberation Serif', serif">F.</text>
</svg>
</body></html>
